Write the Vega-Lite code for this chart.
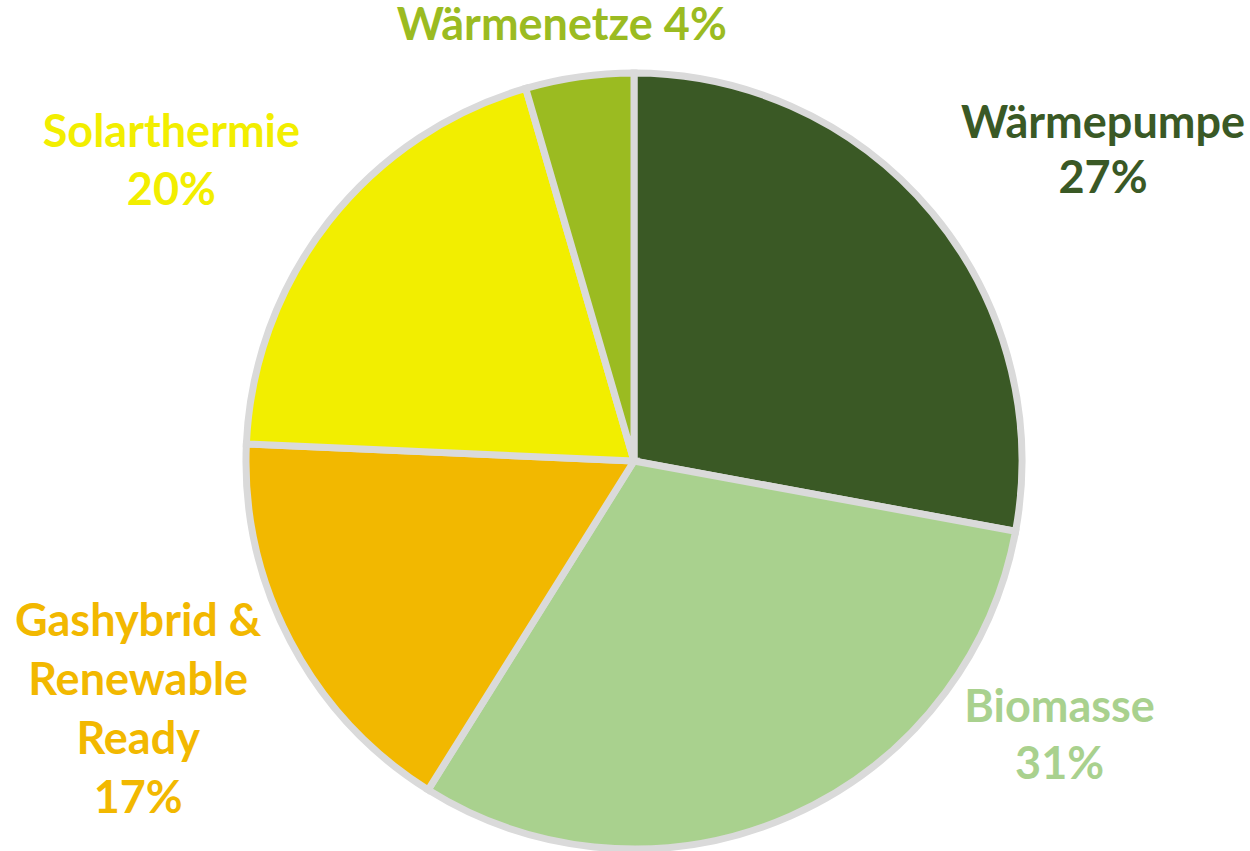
{
  "$schema": "https://vega.github.io/schema/vega-lite/v6.json",
  "width": 776,
  "height": 776,
  "autosize": {"type": "none"},
  "padding": {"left": 246, "top": 73, "right": 228, "bottom": 2},
  "background": "white",
  "view": {"stroke": null},
  "data": {
    "values": [
      {"i": 1, "name": "Wärmepumpe", "value": 27.9, "label": "Wärmepumpe\n27%"},
      {"i": 2, "name": "Biomasse", "value": 31.0, "label": "Biomasse\n31%"},
      {"i": 3, "name": "Gashybrid & Renewable Ready", "value": 16.8, "label": "Gashybrid &\nRenewable\nReady\n17%"},
      {"i": 4, "name": "Solarthermie", "value": 19.8, "label": "Solarthermie\n20%"},
      {"i": 5, "name": "Wärmenetze", "value": 4.5, "label": "Wärmenetze 4%"}
    ]
  },
  "transform": [
    {"stack": "value", "groupby": [], "sort": [{"field": "i", "order": "ascending"}], "as": ["v0", "v1"]}
  ],
  "encoding": {
    "theta": {"field": "v0", "type": "quantitative", "scale": {"domain": [0, 100], "zero": true}},
    "color": {
      "field": "name",
      "type": "nominal",
      "scale": {
        "domain": ["Wärmepumpe", "Biomasse", "Gashybrid & Renewable Ready", "Solarthermie", "Wärmenetze"],
        "range": ["#3A5925", "#A9D18E", "#F2B800", "#F2EE00", "#9BBB21"]
      },
      "legend": null
    }
  },
  "layer": [
    {
      "mark": {"type": "arc", "radius": 388, "stroke": "#DADADA", "strokeWidth": 7, "strokeJoin": "miter"},
      "encoding": {"theta2": {"field": "v1"}}
    },
    {
      "transform": [{"filter": "datum.i == 1"}],
      "mark": {"type": "text", "radius": 388, "dx": 469, "dy": 65, "font": "Lato", "fontWeight": "bold", "fontSize": 45, "lineHeight": 55, "align": "center", "baseline": "alphabetic", "lineBreak": "\n"},
      "encoding": {"text": {"field": "label"}}
    },
    {
      "transform": [{"filter": "datum.i == 2"}],
      "mark": {"type": "text", "radius": 388, "dx": 44, "dy": 191, "font": "Lato", "fontWeight": "bold", "fontSize": 45, "lineHeight": 57, "align": "center", "baseline": "alphabetic", "lineBreak": "\n"},
      "encoding": {"text": {"field": "label"}}
    },
    {
      "transform": [{"filter": "datum.i == 3"}],
      "mark": {"type": "text", "radius": 388, "dx": -290, "dy": -154, "font": "Lato", "fontWeight": "bold", "fontSize": 45, "lineHeight": 59, "align": "center", "baseline": "alphabetic", "lineBreak": "\n"},
      "encoding": {"text": {"field": "label"}}
    },
    {
      "transform": [{"filter": "datum.i == 4"}],
      "mark": {"type": "text", "radius": 388, "dx": -75, "dy": -297, "font": "Lato", "fontWeight": "bold", "fontSize": 45, "lineHeight": 58, "align": "center", "baseline": "alphabetic", "lineBreak": "\n"},
      "encoding": {"text": {"field": "label"}}
    },
    {
      "transform": [{"filter": "datum.i == 5"}],
      "mark": {"type": "text", "radius": 388, "dx": 36, "dy": -48, "font": "Lato", "fontWeight": "bold", "fontSize": 45, "align": "center", "baseline": "alphabetic"},
      "encoding": {"text": {"field": "label"}}
    }
  ]
}
